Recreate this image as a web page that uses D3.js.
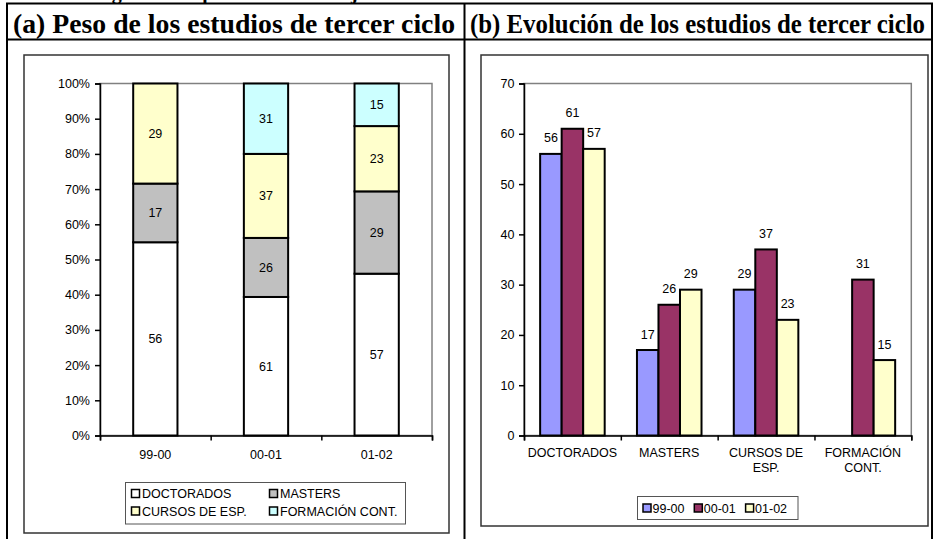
<!DOCTYPE html>
<html>
<head>
<meta charset="utf-8">
<script src="https://cdn.jsdelivr.net/npm/d3@7"></script>
<style>
  html, body { margin: 0; padding: 0; background: #fff; }
  svg { display: block; }
  .sans { font-family: "Liberation Sans", Arial, sans-serif; font-size: 12.5px; fill: #000; }
  .serif { font-family: "Liberation Serif", Tinos, "Times New Roman", Times, serif; font-weight: bold; fill: #000; }
</style>
</head>
<body>
<svg id="chart" width="933" height="539"></svg>
<script>
// ---------------- DATA ----------------
const years = ["99-00", "00-01", "01-02"];
const types = ["DOCTORADOS", "MASTERS", "CURSOS DE ESP.", "FORMACIÓN CONT."];
const typeTickLabels = [["DOCTORADOS"], ["MASTERS"], ["CURSOS DE", "ESP."], ["FORMACIÓN", "CONT."]];
// values per year, for each type
const doctorados = [56, 61, 57];
const masters    = [17, 26, 29];
const cursos     = [29, 37, 23];
const formacion  = [null, 31, 15];
const pctTicks = [0, 0.1, 0.2, 0.3, 0.4, 0.5, 0.6, 0.7, 0.8, 0.9, 1];
const numTicks = [0, 10, 20, 30, 40, 50, 60, 70];
const headerA = "(a) Peso de los estudios de tercer ciclo";
const headerB = "(b) Evolución de los estudios de tercer ciclo";

const typeColors = ["#FFFFFF", "#C0C0C0", "#FFFFCC", "#CCFFFF"];
const yearColors = ["#9999FF", "#993366", "#FFFFCC"];

const seriesByType = [doctorados, masters, cursos, formacion];

const svg = d3.select("#chart");

// ---------------- TABLE FRAME ----------------
// caption of the page above, cut off by the top edge (only descenders visible)
const cap = svg.append("text").attr("class", "serif").attr("font-size", 20).attr("y", -1);
cap.append("tspan").attr("x", 94).text("Figura");
cap.append("tspan").attr("x", 190).text("tipo");
cap.append("tspan").attr("x", 330).text("objetivos");

const tbl = svg.append("g").attr("stroke", "#000").attr("stroke-width", 2);
tbl.append("line").attr("x1", 6).attr("x2", 933).attr("y1", 3.5).attr("y2", 3.5);
tbl.append("line").attr("x1", 6).attr("x2", 933).attr("y1", 39.5).attr("y2", 39.5);
tbl.append("line").attr("x1", 7).attr("x2", 7).attr("y1", 3).attr("y2", 539);
tbl.append("line").attr("x1", 464.5).attr("x2", 464.5).attr("y1", 3).attr("y2", 539);
tbl.append("line").attr("x1", 932).attr("x2", 932).attr("y1", 3).attr("y2", 539);

svg.append("text").attr("class", "serif").attr("font-size", 27)
  .attr("x", 13).attr("y", 33).attr("textLength", 442).attr("lengthAdjust", "spacingAndGlyphs")
  .text(headerA);
svg.append("text").attr("class", "serif").attr("font-size", 27)
  .attr("x", 470).attr("y", 33).attr("textLength", 455).attr("lengthAdjust", "spacingAndGlyphs")
  .text(headerB);

// chart frames
svg.append("rect").attr("x", 24).attr("y", 55).attr("width", 425).attr("height", 478)
  .attr("fill", "#fff").attr("stroke", "#333").attr("stroke-width", 1.5);
svg.append("rect").attr("x", 481).attr("y", 55).attr("width", 447).attr("height", 471)
  .attr("fill", "#fff").attr("stroke", "#333").attr("stroke-width", 1.5);

// ---------------- LEFT: 100% stacked ----------------
const L = { x0: 100, x1: 432, y0: 435.5, y1: 83.5 };
const xL = d3.scaleBand().domain(years).range([L.x0, L.x1]).paddingInner(0.6).paddingOuter(0.3);
const xLb = d3.scaleLinear().domain([0, years.length]).range([L.x0, L.x1]);
const yL = d3.scaleLinear().domain([0, 1]).range([L.y0, L.y1]);

const gL = svg.append("g");
gL.append("rect").attr("x", L.x0).attr("y", L.y1).attr("width", L.x1 - L.x0).attr("height", L.y0 - L.y1)
  .attr("fill", "#fff").attr("stroke", "#808080").attr("stroke-width", 1.5);

const rows = years.map((y, i) => {
  const r = { year: y };
  types.forEach((t, k) => r[t] = seriesByType[k][i] || 0);
  return r;
});
const stack = d3.stack().keys(types).offset(d3.stackOffsetExpand);
const stacked = stack(rows);

stacked.forEach((layer, k) => {
  layer.forEach((seg, i) => {
    const v = seriesByType[k][i];
    if (!v) return;
    gL.append("rect")
      .attr("x", xL(years[i])).attr("width", xL.bandwidth())
      .attr("y", yL(seg[1])).attr("height", yL(seg[0]) - yL(seg[1]))
      .attr("fill", typeColors[k]).attr("stroke", "#000").attr("stroke-width", 2);
    gL.append("text").attr("class", "sans")
      .attr("x", xL(years[i]) + xL.bandwidth() / 2)
      .attr("y", (yL(seg[0]) + yL(seg[1])) / 2)
      .attr("dy", "0.36em").attr("text-anchor", "middle").text(v);
  });
});

const axL = gL.append("g").attr("transform", `translate(${L.x0},0)`)
  .call(d3.axisLeft(yL).tickValues(pctTicks).tickFormat(d3.format(".0%")).tickSize(5).tickPadding(5));
axL.select(".domain").attr("stroke", "#000").attr("stroke-width", 1.5);
axL.selectAll(".tick line").attr("stroke", "#000").attr("stroke-width", 1.5);
axL.selectAll("text").attr("class", "sans").attr("font-family", null).attr("font-size", null);

const axLb = gL.append("g").attr("transform", `translate(0,${L.y0})`)
  .call(d3.axisBottom(xLb).ticks(years.length).tickFormat("").tickSize(5));
axLb.select(".domain").attr("stroke", "#000").attr("stroke-width", 1.5);
axLb.selectAll(".tick line").attr("stroke", "#000").attr("stroke-width", 1.5);
const axLl = gL.append("g").attr("transform", `translate(0,${L.y0})`)
  .call(d3.axisBottom(xL).tickSize(0).tickPadding(15));
axLl.select(".domain").remove();
axLl.selectAll("text").attr("class", "sans").attr("font-family", null).attr("font-size", null);

// legend left
const lgL = svg.append("g");
lgL.append("rect").attr("x", 125.5).attr("y", 482.5).attr("width", 280).attr("height", 41.5)
  .attr("fill", "#fff").attr("stroke", "#555").attr("stroke-width", 1);
const lgPos = [[131.5, 493.5], [269.5, 493.5], [131.5, 511], [269.5, 511]];
types.forEach((t, k) => {
  const [lx, ly] = lgPos[k];
  lgL.append("rect").attr("x", lx).attr("y", ly - 4).attr("width", 8).attr("height", 8)
    .attr("fill", typeColors[k]).attr("stroke", "#000").attr("stroke-width", 1.5);
  lgL.append("text").attr("class", "sans").attr("x", lx + 10.5).attr("y", ly).attr("dy", "0.36em").text(t);
});

// ---------------- RIGHT: grouped bars ----------------
const R = { x0: 524, x1: 911.3, y0: 435.5, y1: 83.5 };
const xR = d3.scaleBand().domain(types).range([R.x0, R.x1]).paddingInner(1 / 3).paddingOuter(1 / 6);
const xRi = d3.scaleBand().domain(years).range([0, xR.bandwidth()]);
const xRb = d3.scaleLinear().domain([0, types.length]).range([R.x0, R.x1]);
const yR = d3.scaleLinear().domain([0, 70]).range([R.y0, R.y1]);

const gR = svg.append("g");
gR.append("rect").attr("x", R.x0).attr("y", R.y1).attr("width", R.x1 - R.x0).attr("height", R.y0 - R.y1)
  .attr("fill", "#fff").attr("stroke", "#808080").attr("stroke-width", 1.5);

types.forEach((t, k) => {
  years.forEach((y, i) => {
    const v = seriesByType[k][i];
    if (v == null) return;
    const bx = xR(t) + xRi(y);
    gR.append("rect").attr("x", bx).attr("width", xRi.bandwidth())
      .attr("y", yR(v)).attr("height", yR(0) - yR(v))
      .attr("fill", yearColors[i]).attr("stroke", "#000").attr("stroke-width", 2);
    gR.append("text").attr("class", "sans").attr("text-anchor", "middle")
      .attr("x", bx + xRi.bandwidth() / 2).attr("y", yR(v) - 11.5).text(v);
  });
});

const axR = gR.append("g").attr("transform", `translate(${R.x0},0)`)
  .call(d3.axisLeft(yR).tickValues(numTicks).tickSize(5).tickPadding(4.5));
axR.select(".domain").attr("stroke", "#000").attr("stroke-width", 1.5);
axR.selectAll(".tick line").attr("stroke", "#000").attr("stroke-width", 1.5);
axR.selectAll("text").attr("class", "sans").attr("font-family", null).attr("font-size", null);

const axRb = gR.append("g").attr("transform", `translate(0,${R.y0})`)
  .call(d3.axisBottom(xRb).ticks(types.length).tickFormat("").tickSize(5));
axRb.select(".domain").attr("stroke", "#000").attr("stroke-width", 1.5);
axRb.selectAll(".tick line").attr("stroke", "#000").attr("stroke-width", 1.5);

types.forEach((t, k) => {
  const tx = gR.append("text").attr("class", "sans").attr("text-anchor", "middle");
  typeTickLabels[k].forEach((line, j) => {
    tx.append("tspan").attr("x", xR(t) + xR.bandwidth() / 2).attr("y", 457 + j * 15).text(line);
  });
});

// legend right
const lgR = svg.append("g");
lgR.append("rect").attr("x", 637.5).attr("y", 496.5).attr("width", 160.5).attr("height", 23)
  .attr("fill", "#fff").attr("stroke", "#555").attr("stroke-width", 1);
years.forEach((y, i) => {
  const lx = 643 + i * 51.3, ly = 508;
  lgR.append("rect").attr("x", lx).attr("y", ly - 4).attr("width", 8).attr("height", 8)
    .attr("fill", yearColors[i]).attr("stroke", "#000").attr("stroke-width", 1.5);
  lgR.append("text").attr("class", "sans").attr("x", lx + 9.5).attr("y", ly).attr("dy", "0.36em").text(y);
});
</script>
</body>
</html>
